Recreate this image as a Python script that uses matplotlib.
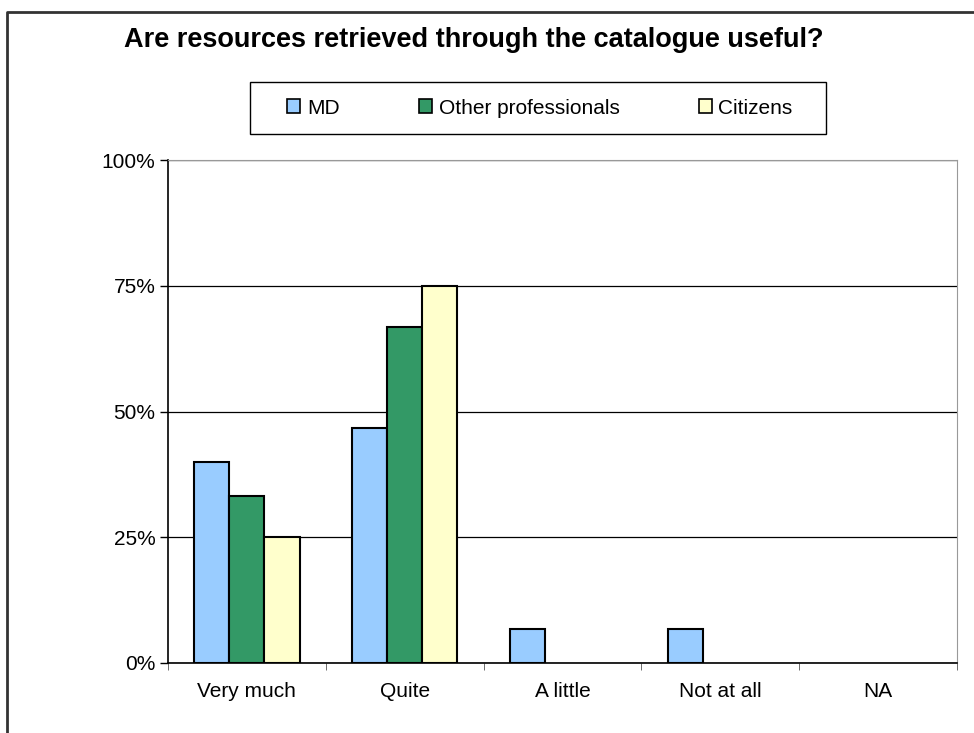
import matplotlib.pyplot as plt
import numpy as np
from matplotlib.patches import Rectangle
from matplotlib.lines import Line2D

plt.rcParams['font.family'] = ['Liberation Sans', 'DejaVu Sans']

# Respuestas por categoria
categorias = ["Very much", "Quite", "A little", "Not at all", "NA"]
md = [40.0, 46.7, 6.7, 6.7, 0.0]
otros = [33.3, 66.7, 0.0, 0.0, 0.0]
ciudadanos = [25.0, 75.0, 0.0, 0.0, 0.0]
series = [("MD", md, "#99ccff"),
          ("Other professionals", otros, "#339966"),
          ("Citizens", ciudadanos, "#ffffcc")]

W, H = 974, 733
fig = plt.figure(figsize=(W / 100, H / 100), dpi=100)
ax = fig.add_axes([168 / W, 1 - 663 / H, (957 - 168) / W, (663 - 160) / H])

x = np.arange(len(categorias))
ancho = 2 / 9
for i, (nombre, vals, color) in enumerate(series):
    vals = np.array(vals)
    pos = x + (i - 1) * ancho
    # las barras en cero no se dibujan
    m = vals > 0
    ax.bar(pos[m], vals[m], width=ancho, color=color, edgecolor="black",
           linewidth=1.5, zorder=3)
    ax.bar([np.nan], [0], width=ancho, color=color, edgecolor="black",
           linewidth=1.2, label=nombre)

ax.set_xlim(-0.5, len(categorias) - 0.5)
ax.set_ylim(0, 100)
ax.set_yticks([0, 25, 50, 75, 100])
ax.set_yticklabels(["0%", "25%", "50%", "75%", "100%"], fontsize=15)
ax.set_xticks(x)
ax.set_xticklabels(categorias, fontsize=15)
ax.tick_params(axis="x", length=0, pad=14)
ax.set_xticks(np.arange(-0.5, len(categorias)), minor=True)
ax.tick_params(axis="x", which="minor", length=5, color="#555555")
ax.tick_params(axis="y", length=6, width=1, color="black", pad=3)
ax.yaxis.grid(True, color="black", linewidth=0.9, zorder=0)
for s in ["top", "right"]:
    ax.spines[s].set_color("#999999")
for s in ["left", "bottom"]:
    ax.spines[s].set_color("black")
    ax.spines[s].set_linewidth(1.2)

fig.text(474 / W, 1 - 40 / H, "Are resources retrieved through the catalogue useful?",
         ha="center", va="center", fontsize=19.5, fontweight="bold")

# leyenda sin marco; el marco se dibuja aparte
leg = fig.legend(loc="center", bbox_to_anchor=(540 / W, 1 - 108 / H), ncol=3,
                 fontsize=15, frameon=False,
                 handlelength=0.62, handleheight=0.62, handletextpad=0.33,
                 columnspacing=3.8)
fig.patches.append(Rectangle((250 / W, 1 - 134 / H), 576 / W, 52 / H,
                             transform=fig.transFigure, fill=False,
                             edgecolor="black", linewidth=1))

# borde del area del grafico (izquierda y arriba)
fig.lines.append(Line2D([7 / W, 7 / W, 1], [0, 1 - 12 / H, 1 - 12 / H],
                        transform=fig.transFigure, color="#333333", linewidth=2))

fig.savefig("out.png", dpi=100)
